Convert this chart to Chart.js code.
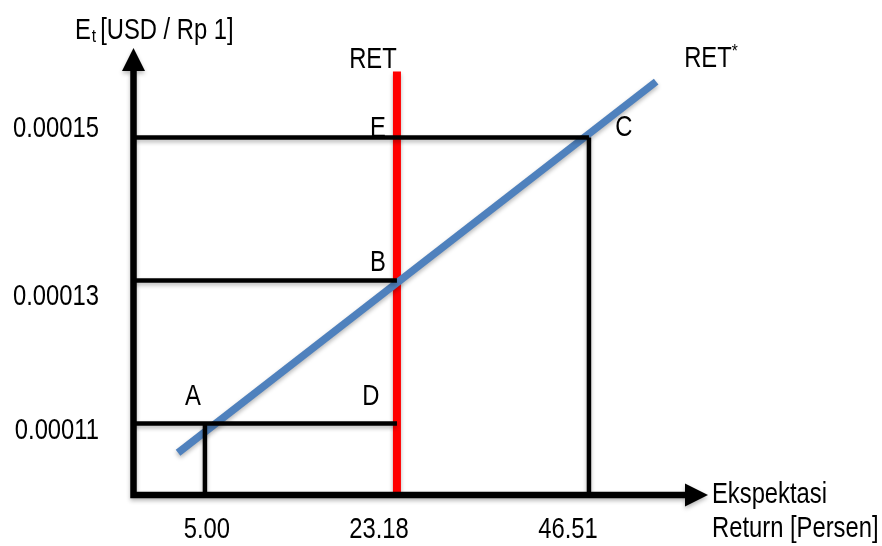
<!DOCTYPE html>
<html>
<head>
<meta charset="utf-8">
<script src="https://cdn.jsdelivr.net/npm/chart.js@4/dist/chart.umd.min.js"></script>
<style>
  html, body { margin: 0; padding: 0; background: #ffffff; }
  #wrap { width: 882px; height: 546px; }
</style>
</head>
<body>
<div id="wrap"><canvas id="chart" width="882" height="546"></canvas></div>
<script>
// Expected return categories (percent) shown on the horizontal axis
const returnLabels = ['5.00', '23.18', '46.51'];
// Exchange rate levels E_t (USD per Rp 1)
const rateValues = [0.00011, 0.00013, 0.00015];
const rateLabels = ['0.00011', '0.00013', '0.00015'];

// Named points: index into returnLabels and into rateValues
const pointNames  = ['A', 'B', 'C', 'D', 'E'];
const pointReturn = [0, 1, 2, 1, 1];
const pointRate   = [0, 1, 2, 0, 2];

// RET* schedule end points (return slot, rate)
const retStarSlots = [0.86, 3.35];
const retStarRates = [0.0001059, 0.0001578];
// RET schedule: vertical at the 23.18 return, up to this rate
const retReturnIndex = 1;
const retTopRate = 0.0001592;

// Axis extent (origin and arrow tips)
const axisX = [0.628, 3.62];
const axisY = [0.00010, 0.0001625];

const slot = i => i + 1;
const pt = k => ({ x: slot(pointReturn[k]), y: rateValues[pointRate[k]] });
const P = {};
pointNames.forEach((n, k) => { P[n] = pt(k); });

const BLACK = '#000000';
const RED = '#ff0000';
const BLUE = '#4f81bd';

function seg(a, b, color, width, shadow) {
  return {
    data: [a, b],
    borderColor: color,
    borderWidth: width,
    borderCapStyle: 'butt',
    pointRadius: 0,
    fill: false,
    tension: 0,
    shadow: shadow
  };
}

const datasets = [
  // guide lines to the axes
  seg({ x: axisX[0], y: P.D.y }, P.D, BLACK, 4.5, true),
  seg({ x: axisX[0], y: P.B.y }, P.B, BLACK, 4.5, true),
  seg({ x: axisX[0], y: P.C.y }, P.C, BLACK, 4.5, true),
  seg(P.A, { x: P.A.x, y: axisY[0] }, BLACK, 4.5, true),
  seg(P.C, { x: P.C.x, y: axisY[0] }, BLACK, 4.5, true),
  // RET* schedule
  seg({ x: retStarSlots[0], y: retStarRates[0] }, { x: retStarSlots[1], y: retStarRates[1] }, BLUE, 7.5, true),
  // RET schedule
  seg({ x: slot(retReturnIndex), y: axisY[0] }, { x: slot(retReturnIndex), y: retTopRate }, RED, 8, true)
];

// Font and horizontal condensing so the narrow look holds with any installed sans
const FONT_FAMILY = '"Liberation Sans Narrow", "Liberation Sans", Arial, sans-serif';
const BASE = 29;
let squeeze = 1;
(function () {
  const m = document.createElement('canvas').getContext('2d');
  m.font = BASE + 'px ' + FONT_FAMILY;
  const w = m.measureText('Ekspektasi').width;
  squeeze = Math.min(1, 115 / w);
})();

function text(ctx, str, x, y, size, align) {
  ctx.save();
  ctx.font = size + 'px ' + FONT_FAMILY;
  ctx.fillStyle = '#000';
  ctx.textBaseline = 'middle';
  const w = ctx.measureText(str).width * squeeze;
  let left = x;
  if (align === 'center') left = x - w / 2;
  else if (align === 'right') left = x - w;
  ctx.translate(left, y);
  ctx.scale(squeeze, 1);
  ctx.textAlign = 'left';
  ctx.fillText(str, 0, 0);
  ctx.restore();
  return w;
}

// Letter placement relative to each named point (px)
const letterOffset = { A: [-12, -26], B: [-19, -17], C: [35, -9], D: [-26, -26], E: [-19, -8] };
const rateLabelShift = [8, 17, -8];
const returnLabelShift = [2, -18, -21];

const diagramPlugin = {
  id: 'diagram',
  beforeDatasetsDraw(chart) {
    const ctx = chart.ctx;
    const xs = chart.scales.x, ys = chart.scales.y;
    pointNames.forEach((n) => {
      const o = letterOffset[n];
      text(ctx, n, xs.getPixelForValue(P[n].x) + o[0], ys.getPixelForValue(P[n].y) + o[1], BASE, 'center');
    });
  },
  beforeDatasetDraw(chart, args) {
    const ds = chart.data.datasets[args.index];
    chart.ctx.save();
    if (ds.shadow) {
      chart.ctx.shadowColor = 'rgba(0,0,0,0.28)';
      chart.ctx.shadowBlur = 4;
      chart.ctx.shadowOffsetY = 2.5;
      chart.ctx.shadowOffsetX = 0;
    }
  },
  afterDatasetDraw(chart) {
    chart.ctx.restore();
  },
  afterDatasetsDraw(chart) {
    const ctx = chart.ctx;
    const xs = chart.scales.x, ys = chart.scales.y;
    const x0 = xs.getPixelForValue(axisX[0]);
    const x1 = xs.getPixelForValue(axisX[1]);
    const y0 = ys.getPixelForValue(axisY[0]);
    const y1 = ys.getPixelForValue(axisY[1]);
    const head = 23, half = 11.5;

    ctx.save();
    ctx.shadowColor = 'rgba(0,0,0,0.28)';
    ctx.shadowBlur = 4;
    ctx.shadowOffsetY = 2.5;
    ctx.strokeStyle = BLACK;
    ctx.fillStyle = BLACK;
    ctx.lineWidth = 6.5;
    ctx.lineCap = 'butt';
    ctx.beginPath();
    ctx.moveTo(x0, y0 + 3.25);
    ctx.lineTo(x0, y1 + head - 1);
    ctx.moveTo(x0 - 3.25, y0);
    ctx.lineTo(x1 - head + 1, y0);
    ctx.stroke();
    // arrow heads
    ctx.beginPath();
    ctx.moveTo(x0, y1);
    ctx.lineTo(x0 + half, y1 + head);
    ctx.lineTo(x0 - half, y1 + head);
    ctx.closePath();
    ctx.fill();
    ctx.beginPath();
    ctx.moveTo(x1, y0);
    ctx.lineTo(x1 - head, y0 - half);
    ctx.lineTo(x1 - head, y0 + half);
    ctx.closePath();
    ctx.fill();
    ctx.restore();

    // rate tick labels
    rateValues.forEach((v, i) => {
      text(ctx, rateLabels[i], 99, ys.getPixelForValue(v) + rateLabelShift[i], BASE, 'right');
    });
    // return tick labels
    returnLabels.forEach((lab, i) => {
      text(ctx, lab, xs.getPixelForValue(slot(i)) + returnLabelShift[i], 530, BASE, 'center');
    });

    // axis titles
    let w = text(ctx, 'E', 75, 31, BASE, 'left');
    w += text(ctx, 't', 75 + w + 1, 37, 19, 'left');
    text(ctx, '[USD / Rp 1]', 75 + w + 5, 31, BASE, 'left');
    text(ctx, 'Ekspektasi', 712, 495, BASE, 'left');
    text(ctx, 'Return [Persen]', 712, 529, BASE, 'left');

    // schedule names
    const retX = xs.getPixelForValue(slot(retReturnIndex));
    const retY = ys.getPixelForValue(retTopRate);
    text(ctx, 'RET', retX - 24, retY - 12, BASE, 'center');
    const sx = xs.getPixelForValue(retStarSlots[1]);
    const sy = ys.getPixelForValue(retStarRates[1]);
    const rw = text(ctx, 'RET', sx + 28, sy - 23, BASE, 'left');
    text(ctx, '*', sx + 28 + rw, sy - 30, 19, 'left');
  }
};

new Chart(document.getElementById('chart'), {
  type: 'line',
  data: { datasets },
  options: {
    responsive: false,
    animation: false,
    parsing: true,
    layout: { padding: { left: 133.5, right: 174, top: 48, bottom: 51 } },
    plugins: { legend: { display: false }, tooltip: { enabled: false } },
    scales: {
      x: { type: 'linear', display: false, min: axisX[0], max: axisX[1] },
      y: { type: 'linear', display: false, min: axisY[0], max: axisY[1] }
    }
  },
  plugins: [diagramPlugin]
});
</script>
</body>
</html>
